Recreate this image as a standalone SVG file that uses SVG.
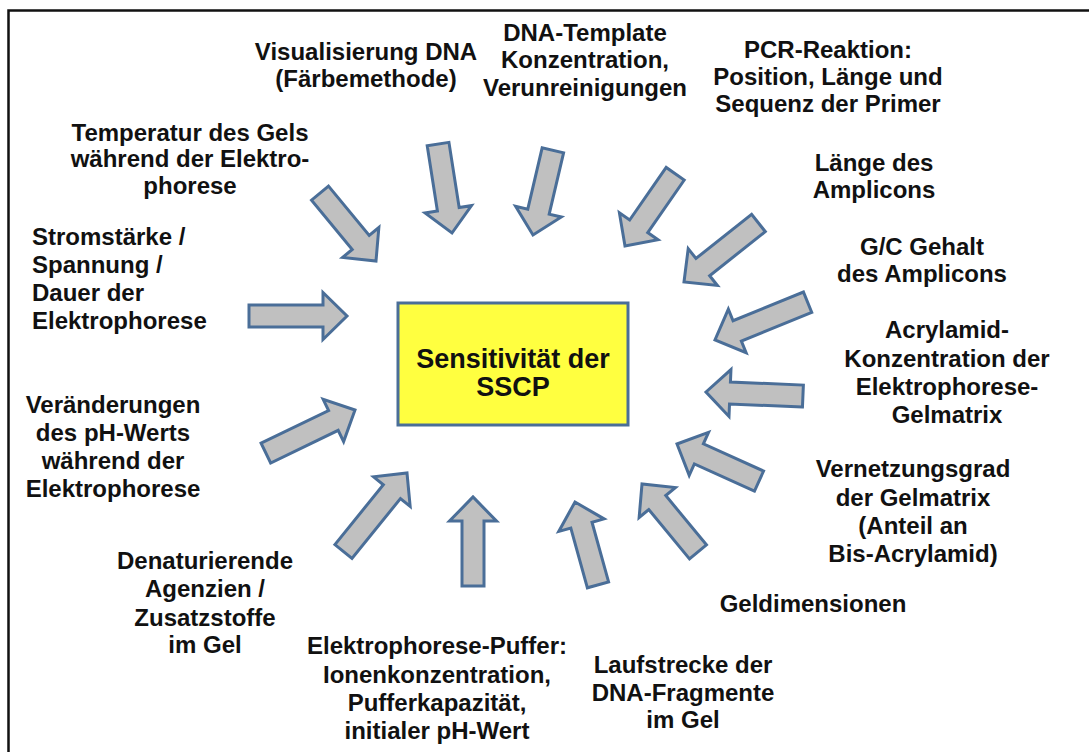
<svg xmlns="http://www.w3.org/2000/svg" width="1089" height="752" viewBox="0 0 1089 752">
  <style>
    .lbl { font-family: "Liberation Sans", Arial, sans-serif; font-weight: bold; font-size: 24px; fill: #111; }
    .mid { text-anchor: middle; }
    .arrow { fill: #c0c0c0; stroke: #4a6e98; stroke-width: 3; stroke-linejoin: miter; }
    .core { fill: #ffff40; stroke: #4a6e98; stroke-width: 3; }
    .core-text { font-family: "Liberation Sans", Arial, sans-serif; font-weight: bold; font-size: 27px; fill: #111; text-anchor: middle; }
  </style>

  <rect width="1089" height="752" fill="#ffffff"/>
  <!-- outer frame (left and top edges visible) -->
  <path d="M8.5,752 V10.5 H1089" fill="none" stroke="#111" stroke-width="2.5"/>

  <!-- central node -->
  <g id="sensitivity">
    <rect class="core" x="398" y="303" width="230" height="122"/>
    <text class="core-text" x="513" y="368">Sensitivität der</text>
    <text class="core-text" x="513" y="396">SSCP</text>
  </g>

  <!-- block arrows: each polygon has its tip at the local origin, pointing along +x -->
  <g id="connectors">
    <polygon class="arrow" transform="translate(376,261) rotate(50.5)" points="-88,-11 -24,-11 -24,-23.5 0,0 -24,23.5 -24,11 -88,11"/>
    <polygon class="arrow" transform="translate(452,233) rotate(81.1)" points="-90,-11 -24,-11 -24,-23.5 0,0 -24,23.5 -24,11 -90,11"/>
    <polygon class="arrow" transform="translate(533,235) rotate(103.2)" points="-87,-11 -24,-11 -24,-23.5 0,0 -24,23.5 -24,11 -87,11"/>
    <polygon class="arrow" transform="translate(625,246) rotate(124.8)" points="-88,-11 -24,-11 -24,-23.5 0,0 -24,23.5 -24,11 -88,11"/>
    <polygon class="arrow" transform="translate(684,282) rotate(141.6)" points="-95,-11 -24,-11 -24,-23.5 0,0 -24,23.5 -24,11 -95,11"/>
    <polygon class="arrow" transform="translate(715,340) rotate(157.8)" points="-100,-11 -24,-11 -24,-23.5 0,0 -24,23.5 -24,11 -100,11"/>
    <polygon class="arrow" transform="translate(706,392) rotate(182.4)" points="-97,-11 -24,-11 -24,-23.5 0,0 -24,23.5 -24,11 -97,11"/>
    <polygon class="arrow" transform="translate(677,444) rotate(204.3)" points="-90,-11 -24,-11 -24,-23.5 0,0 -24,23.5 -24,11 -90,11"/>
    <polygon class="arrow" transform="translate(642,484) rotate(230.5)" points="-88,-11 -24,-11 -24,-23.5 0,0 -24,23.5 -24,11 -88,11"/>
    <polygon class="arrow" transform="translate(575,502) rotate(254.5)" points="-86,-11 -24,-11 -24,-23.5 0,0 -24,23.5 -24,11 -86,11"/>
    <polygon class="arrow" transform="translate(473,497) rotate(270)" points="-89,-11 -24,-11 -24,-23.5 0,0 -24,23.5 -24,11 -89,11"/>
    <polygon class="arrow" transform="translate(407,473) rotate(-51)" points="-101,-11 -24,-11 -24,-23.5 0,0 -24,23.5 -24,11 -101,11"/>
    <polygon class="arrow" transform="translate(355,410) rotate(-25.8)" points="-99,-11 -24,-11 -24,-23.5 0,0 -24,23.5 -24,11 -99,11"/>
    <polygon class="arrow" transform="translate(347,316)" points="-98,-11 -24,-11 -24,-23.5 0,0 -24,23.5 -24,11 -98,11"/>
  </g>

  <!-- factor labels -->
  <g id="visualisierung" class="lbl mid">
    <text x="366" y="60">Visualisierung DNA</text>
    <text x="366" y="87">(Färbemethode)</text>
  </g>
  <g id="dna-template" class="lbl mid">
    <text x="585" y="41">DNA-Template</text>
    <text x="585" y="68">Konzentration,</text>
    <text x="585" y="96">Verunreinigungen</text>
  </g>
  <g id="pcr-reaktion" class="lbl mid">
    <text x="828" y="58">PCR-Reaktion:</text>
    <text x="828" y="85">Position, Länge und</text>
    <text x="828" y="112">Sequenz der Primer</text>
  </g>
  <g id="temperatur" class="lbl mid">
    <text x="190" y="141">Temperatur des Gels</text>
    <text x="190" y="167">während der Elektro-</text>
    <text x="190" y="194">phorese</text>
  </g>
  <g id="laenge" class="lbl mid">
    <text x="874" y="171">Länge des</text>
    <text x="874" y="198">Amplicons</text>
  </g>
  <g id="gc-gehalt" class="lbl mid">
    <text x="922" y="255">G/C Gehalt</text>
    <text x="922" y="282">des Amplicons</text>
  </g>
  <g id="stromstaerke" class="lbl">
    <text x="32" y="245">Stromstärke /</text>
    <text x="32" y="273">Spannung /</text>
    <text x="32" y="301">Dauer der</text>
    <text x="32" y="329">Elektrophorese</text>
  </g>
  <g id="acrylamid" class="lbl mid">
    <text x="947" y="338">Acrylamid-</text>
    <text x="947" y="367">Konzentration der</text>
    <text x="947" y="395">Elektrophorese-</text>
    <text x="947" y="423">Gelmatrix</text>
  </g>
  <g id="ph-wert" class="lbl mid">
    <text x="113" y="413">Veränderungen</text>
    <text x="113" y="441">des pH-Werts</text>
    <text x="113" y="469">während der</text>
    <text x="113" y="497">Elektrophorese</text>
  </g>
  <g id="vernetzungsgrad" class="lbl mid">
    <text x="913" y="477">Vernetzungsgrad</text>
    <text x="913" y="506">der Gelmatrix</text>
    <text x="913" y="534">(Anteil an</text>
    <text x="913" y="562">Bis-Acrylamid)</text>
  </g>
  <g id="denaturierende" class="lbl mid">
    <text x="205" y="569">Denaturierende</text>
    <text x="205" y="597">Agenzien /</text>
    <text x="205" y="626">Zusatzstoffe</text>
    <text x="205" y="653">im Gel</text>
  </g>
  <g id="geldimensionen" class="lbl mid">
    <text x="813" y="612">Geldimensionen</text>
  </g>
  <g id="puffer" class="lbl mid">
    <text x="437" y="654">Elektrophorese-Puffer:</text>
    <text x="437" y="683">Ionenkonzentration,</text>
    <text x="437" y="711">Pufferkapazität,</text>
    <text x="437" y="739">initialer pH-Wert</text>
  </g>
  <g id="laufstrecke" class="lbl mid">
    <text x="683" y="673">Laufstrecke der</text>
    <text x="683" y="701">DNA-Fragmente</text>
    <text x="683" y="728">im Gel</text>
  </g>
</svg>
